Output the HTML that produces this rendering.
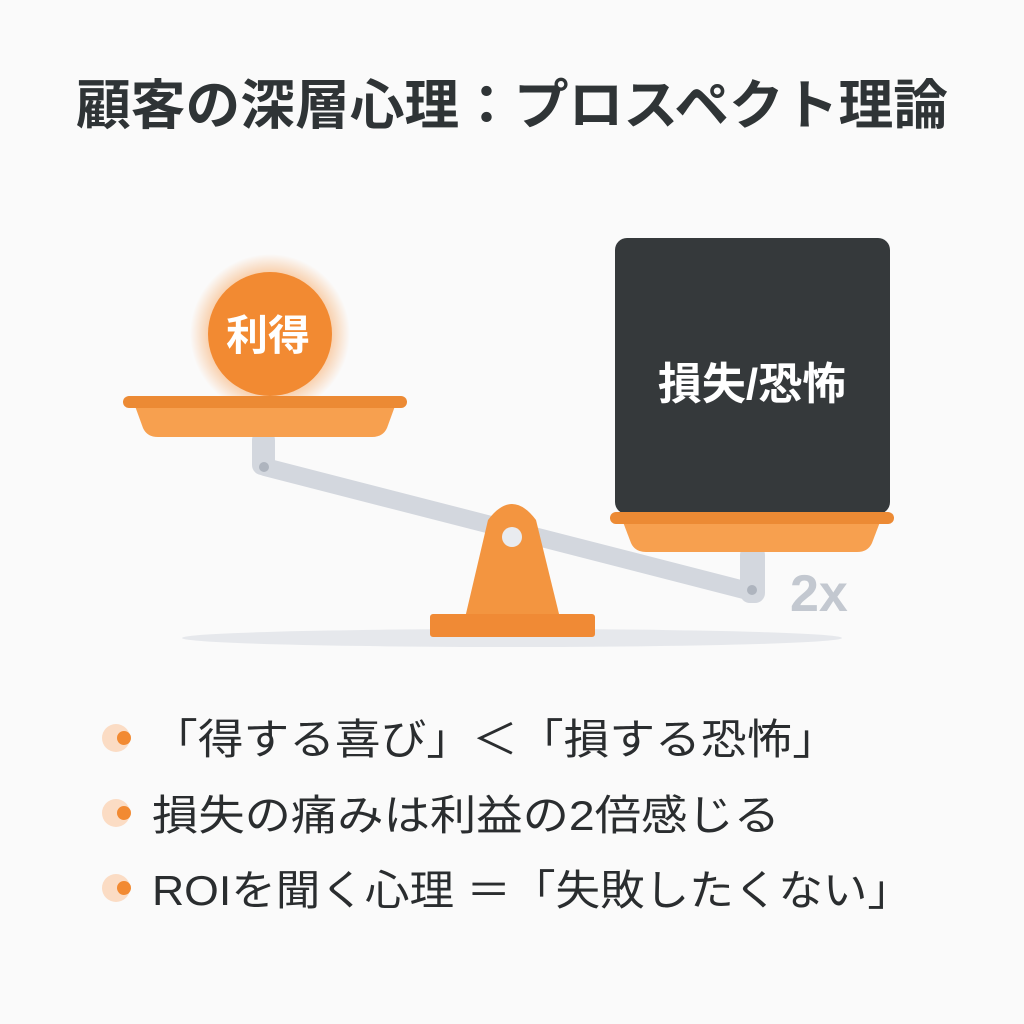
<!DOCTYPE html>
<html><head><meta charset="utf-8"><style>
html,body{margin:0;padding:0;background:#fafafa;}
svg{display:block;}
text{font-family:"Liberation Sans","Noto Sans CJK JP",sans-serif;}
</style></head><body>
<svg width="1024" height="1024" viewBox="0 0 1024 1024" xmlns="http://www.w3.org/2000/svg">
<defs>
<radialGradient id="glow" cx="0.5" cy="0.5" r="0.5">
<stop offset="0.7" stop-color="#f7a055" stop-opacity="0.6"/>
<stop offset="1" stop-color="#f7a055" stop-opacity="0"/>
</radialGradient>
</defs>
<rect width="1024" height="1024" fill="#fafafa"/>
<text x="512" y="124" text-anchor="middle" font-size="54" font-weight="bold" fill="#2f3436" textLength="872" lengthAdjust="spacingAndGlyphs">顧客の深層心理：プロスペクト理論</text>

<ellipse cx="512" cy="638" rx="330" ry="9" fill="#e6e8ec"/>
<line x1="265" y1="467" x2="752" y2="592" stroke="#d3d7de" stroke-width="18" stroke-linecap="round"/>
<rect x="252" y="430" width="23" height="45" rx="10" fill="#d3d7de"/>
<circle cx="264" cy="467" r="5" fill="#aeb4be"/>
<rect x="740" y="545" width="25" height="58" rx="10" fill="#d3d7de"/>
<circle cx="752" cy="590" r="5" fill="#aeb4be"/>
<path d="M465 618 L488 520 Q512 488 536 520 L560 618 Z" fill="#f39540"/>
<circle cx="512" cy="537" r="10" fill="#e9ebef"/>
<rect x="430" y="614" width="165" height="23" rx="3" fill="#f08a35"/>
<circle cx="270" cy="334" r="80" fill="url(#glow)"/>
<circle cx="270" cy="334" r="62" fill="#f28a32"/>
<text x="268" y="350" text-anchor="middle" font-size="42" font-weight="bold" fill="#fff">利得</text>
<path d="M135 406 L395 406 L387 428 Q383 437 372 437 L158 437 Q147 437 143 428 Z" fill="#f7a04f"/>
<rect x="123" y="396" width="284" height="12" rx="6" fill="#ec8a34"/>
<rect x="615" y="238" width="275" height="276" rx="12" fill="#35393b"/>
<text x="752" y="399" text-anchor="middle" font-size="44" font-weight="bold" fill="#fff">損失/恐怖</text>
<path d="M623 522 L880 522 L872 543 Q868 552 857 552 L646 552 Q635 552 631 543 Z" fill="#f7a04f"/>
<rect x="610" y="512" width="284" height="12" rx="6" fill="#ec8a34"/>
<text x="790" y="611" font-size="52" font-weight="bold" fill="#c3c8d0">2x</text>

<g>
<circle cx="116" cy="738" r="14" fill="#fbdcc4"/><circle cx="124" cy="738" r="7" fill="#f28a32"/>
<circle cx="116" cy="813" r="14" fill="#fbdcc4"/><circle cx="124" cy="813" r="7" fill="#f28a32"/>
<circle cx="116" cy="888" r="14" fill="#fbdcc4"/><circle cx="124" cy="888" r="7" fill="#f28a32"/>
</g>
<g font-size="42" fill="#2a2d2f">
<text x="152" y="754" textLength="686" lengthAdjust="spacingAndGlyphs">「得する喜び」＜「損する恐怖」</text>
<text x="152" y="830" textLength="628" lengthAdjust="spacingAndGlyphs">損失の痛みは利益の2倍感じる</text>
<text x="152" y="905" textLength="760" lengthAdjust="spacingAndGlyphs">ROIを聞く心理 ＝「失敗したくない」</text>
</g>
</svg>
</body></html>
